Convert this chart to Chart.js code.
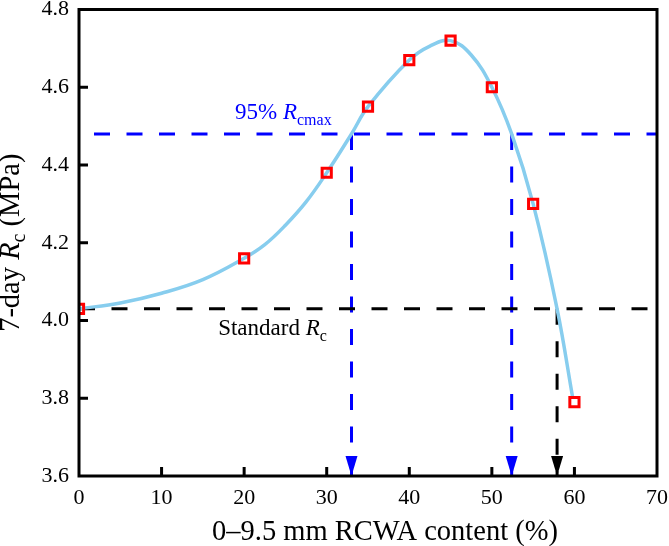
<!DOCTYPE html>
<html>
<head>
<meta charset="utf-8">
<script src="https://cdn.jsdelivr.net/npm/chart.js@4.4.0/dist/chart.umd.min.js"></script>
<style>
  html, body { margin: 0; padding: 0; background: #fff; }
  canvas { display: block; }
</style>
</head>
<body>
<canvas id="rcChart" width="669" height="546"></canvas>
<script>
const contentPct = [0, 20, 30, 35, 40, 45, 50, 55, 60];
const strength = [4.03, 4.16, 4.38, 4.55, 4.67, 4.72, 4.60, 4.30, 3.79];

// fitted curve
const fitX = [0, 5, 10, 15, 20, 22.5, 25, 27.5, 30, 33, 35, 40, 42.5, 45, 47.5, 50, 52.4, 55, 57.9, 59.8];
const fitY = [4.03, 4.045, 4.07, 4.105, 4.16, 4.195, 4.245, 4.305, 4.38, 4.48, 4.55, 4.67, 4.706, 4.72, 4.683, 4.60, 4.48, 4.30, 4.03, 3.80];

const rcMax95 = 4.48;
const rcStandard = 4.03;
const crossLow = 33.0;
const crossHigh = 52.4;
const crossStd = 57.9;

const xTicks = [0, 10, 20, 30, 40, 50, 60, 70];
const yTicks = [3.6, 3.8, 4.0, 4.2, 4.4, 4.6, 4.8];

const SERIF = "'Liberation Serif', 'Times New Roman', serif";
const BLUE = "#0000ff";

const pts = (xs, ys) => xs.map((v, i) => ({ x: v, y: ys[i] }));

function dashed(data, color, offset) {
  return {
    type: "line",
    data,
    borderColor: color,
    borderWidth: 3,
    borderDash: [16, 16.5],
    borderDashOffset: offset || 0,
    pointRadius: 0,
    order: 3
  };
}

function richText(ctx, parts, x, y, align) {
  let w = 0;
  parts.forEach(p => { ctx.font = p.font; w += ctx.measureText(p.text).width; });
  let cx = align === "center" ? x - w / 2 : x;
  parts.forEach(p => {
    ctx.font = p.font;
    ctx.fillText(p.text, cx, y + (p.dy || 0));
    cx += ctx.measureText(p.text).width;
  });
}

const decorPlugin = {
  id: "decor",
  afterDraw(chart) {
    const { ctx, chartArea: a, scales: { x, y } } = chart;
    ctx.save();

    // arrow heads at the bottom axis
    [[crossLow, BLUE], [crossHigh, BLUE], [crossStd, "#000"]].forEach(([v, c]) => {
      const px = x.getPixelForValue(v);
      ctx.fillStyle = c;
      ctx.beginPath();
      ctx.moveTo(px, a.bottom);
      ctx.lineTo(px - 6, a.bottom - 20);
      ctx.lineTo(px + 6, a.bottom - 20);
      ctx.closePath();
      ctx.fill();
    });

    // frame + inward ticks
    ctx.strokeStyle = "#000";
    ctx.lineWidth = 3;
    ctx.strokeRect(a.left, a.top, a.right - a.left, a.bottom - a.top);
    ctx.beginPath();
    xTicks.slice(1, -1).forEach(v => {
      const px = x.getPixelForValue(v);
      ctx.moveTo(px, a.bottom);
      ctx.lineTo(px, a.bottom - 9);
    });
    yTicks.slice(1, -1).forEach(v => {
      const py = y.getPixelForValue(v);
      ctx.moveTo(a.left, py);
      ctx.lineTo(a.left + 9, py);
    });
    ctx.stroke();

    // annotations
    ctx.textBaseline = "alphabetic";
    ctx.textAlign = "left";
    ctx.fillStyle = BLUE;
    richText(ctx, [
      { text: "95% ", font: `23px ${SERIF}` },
      { text: "R", font: `italic 23px ${SERIF}` },
      { text: "cmax", font: `16px ${SERIF}`, dy: 6 }
    ], x.getPixelForValue(18.9), y.getPixelForValue(rcMax95) - 15);

    ctx.fillStyle = "#000";
    richText(ctx, [
      { text: "Standard ", font: `23px ${SERIF}` },
      { text: "R", font: `italic 23px ${SERIF}` },
      { text: "c", font: `16px ${SERIF}`, dy: 6 }
    ], x.getPixelForValue(16.85), y.getPixelForValue(rcStandard) + 26);

    // axis titles
    richText(ctx, [
      { text: "0\u20139.5 mm RCWA content (%)", font: `28.5px ${SERIF}` }
    ], 385, 540, "center");

    ctx.translate(19, (a.top + a.bottom) / 2);
    ctx.rotate(-Math.PI / 2);
    richText(ctx, [
      { text: "7-day ", font: `28.5px ${SERIF}` },
      { text: "R", font: `italic 28.5px ${SERIF}` },
      { text: "c", font: `20px ${SERIF}`, dy: 6 },
      { text: " (MPa)", font: `28.5px ${SERIF}` }
    ], 0, 0, "center");

    ctx.restore();
  }
};

new Chart(document.getElementById("rcChart"), {
  type: "scatter",
  data: {
    datasets: [
      {
        data: pts(contentPct, strength),
        pointStyle: "rect",
        pointRadius: 6.5,
        pointBorderWidth: 3,
        pointBorderColor: "#ff0000",
        pointBackgroundColor: "rgba(255,255,255,0)",
        order: 0
      },
      {
        type: "line",
        data: pts(fitX, fitY),
        borderColor: "#87cdee",
        borderWidth: 3.5,
        tension: 0.4,
        pointRadius: 0,
        order: 1
      },
      dashed([{ x: 0, y: rcMax95 }, { x: 70, y: rcMax95 }], BLUE, 17.5),
      dashed([{ x: 0, y: rcStandard }, { x: 70, y: rcStandard }], "#000"),
      dashed([{ x: crossLow, y: rcMax95 }, { x: crossLow, y: 3.6 }], BLUE),
      dashed([{ x: crossHigh, y: rcMax95 }, { x: crossHigh, y: 3.6 }], BLUE),
      dashed([{ x: crossStd, y: rcStandard }, { x: crossStd, y: 3.6 }], "#000")
    ]
  },
  options: {
    responsive: false,
    devicePixelRatio: 1,
    animation: false,
    layout: { padding: { top: 9, right: 12, left: 0, bottom: 0 } },
    plugins: { legend: { display: false }, tooltip: { enabled: false } },
    scales: {
      x: {
        type: "linear",
        min: 0,
        max: 70,
        grid: { display: false, drawTicks: false },
        border: { display: false },
        afterBuildTicks: s => { s.ticks = xTicks.map(v => ({ value: v })); },
        afterFit: s => { s.height = 70; s.paddingLeft = 0; s.paddingRight = 0; },
        ticks: {
          color: "#000",
          padding: 9,
          maxRotation: 0,
          font: { family: SERIF, size: 22 },
          callback: v => v
        }
      },
      y: {
        min: 3.6,
        max: 4.8,
        grid: { display: false, drawTicks: false },
        border: { display: false },
        afterBuildTicks: s => { s.ticks = yTicks.map(v => ({ value: v })); },
        afterFit: s => { s.width = 79; s.paddingTop = 0; s.paddingBottom = 0; },
        ticks: {
          color: "#000",
          padding: 10,
          font: { family: SERIF, size: 22 },
          callback: v => v.toFixed(1)
        }
      }
    }
  },
  plugins: [decorPlugin]
});
</script>
</body>
</html>
